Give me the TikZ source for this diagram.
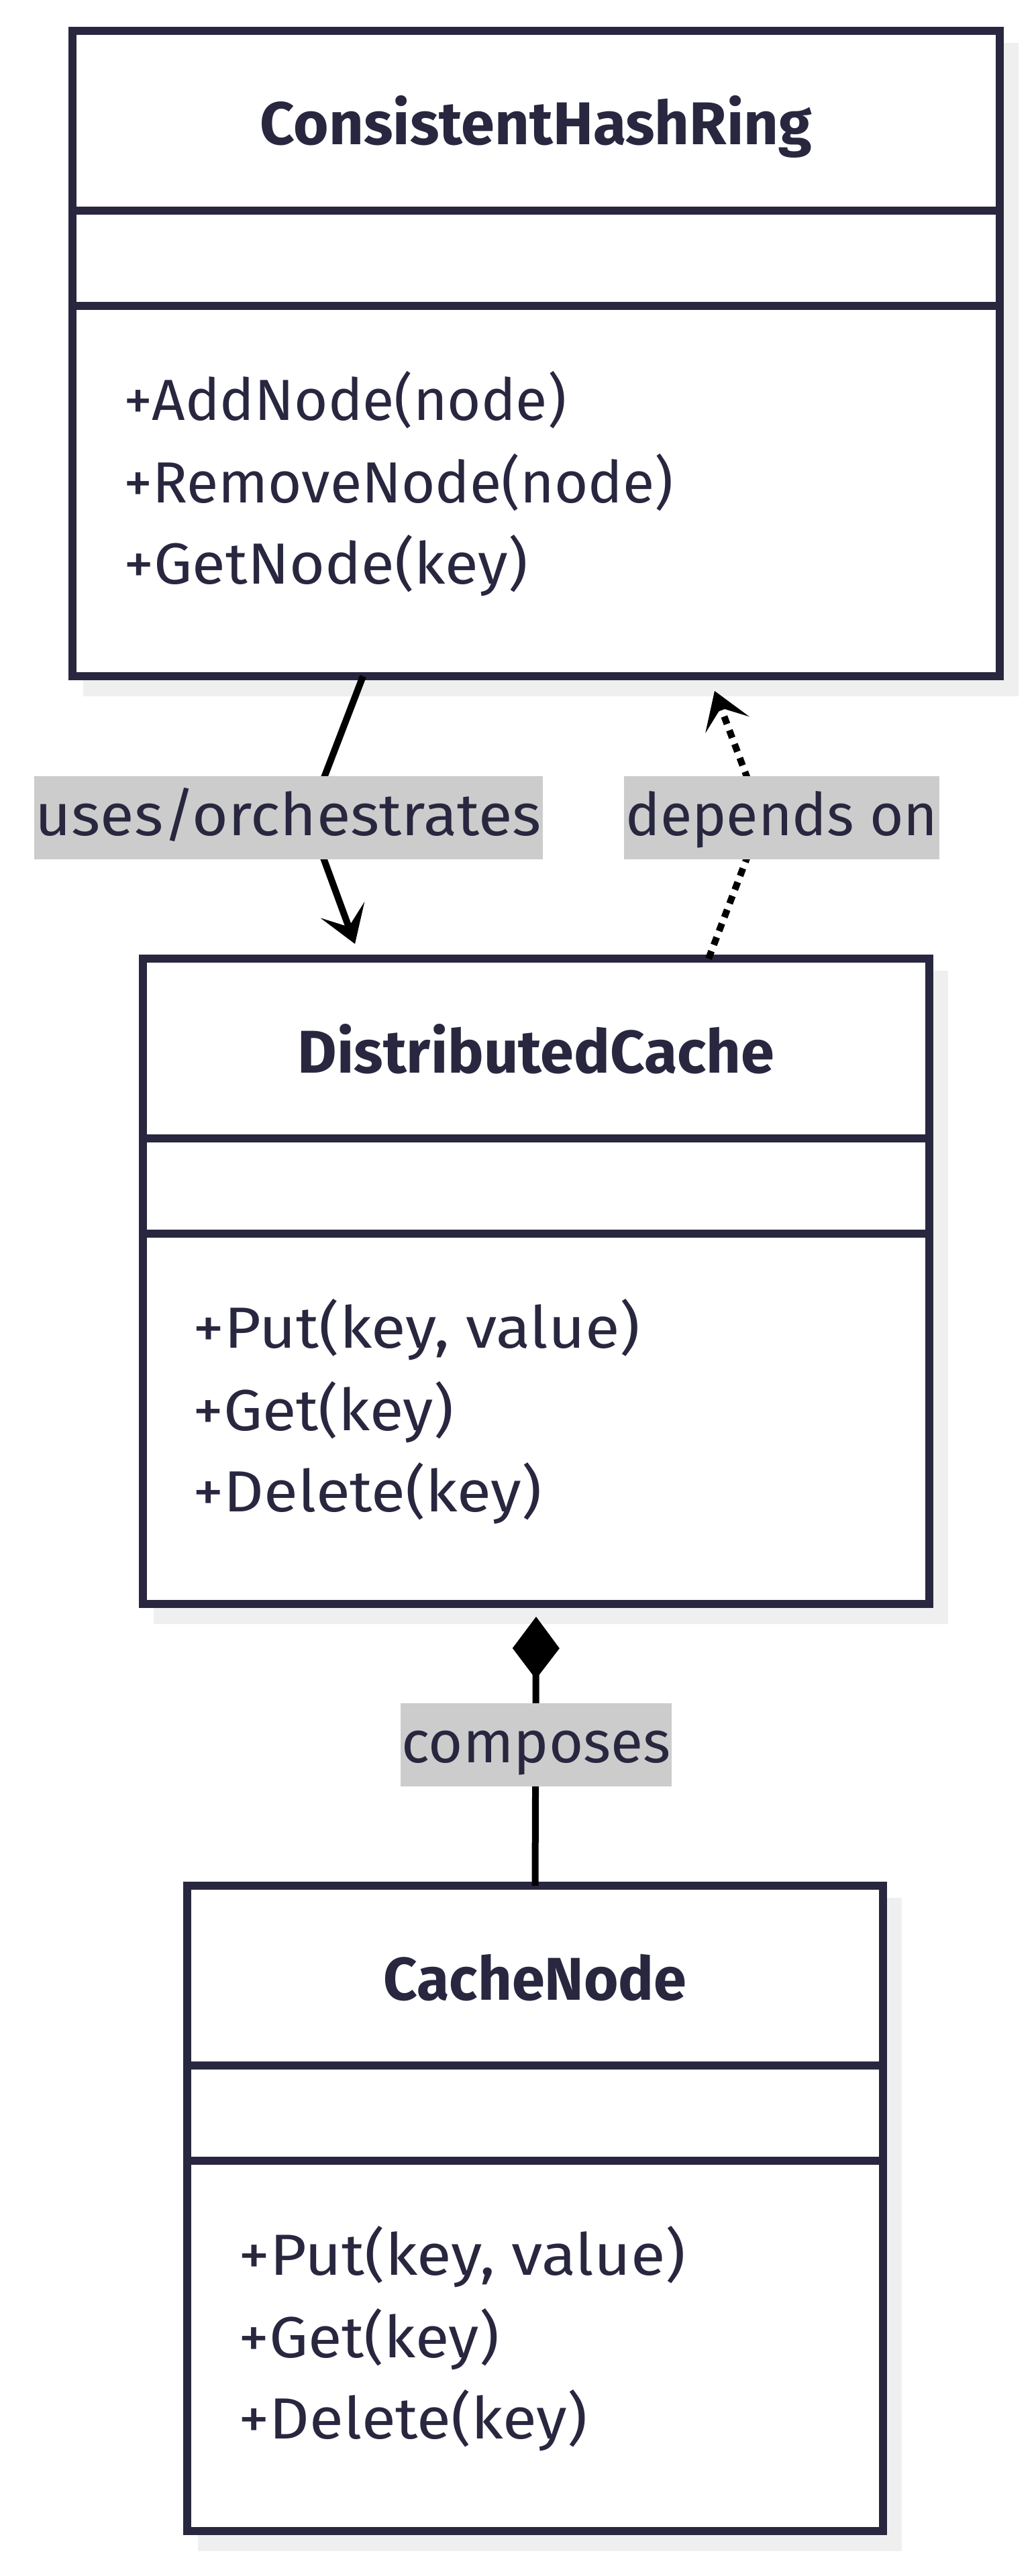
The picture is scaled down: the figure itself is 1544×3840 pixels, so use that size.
\documentclass[tikz,border=0pt]{standalone}
\usepackage{fontspec}
\usepackage{graphicx}
\setmainfont{Fira Sans}
\usetikzlibrary{arrows.meta,calc,backgrounds}
\definecolor{ink}{HTML}{28273F}
\definecolor{shadowc}{HTML}{EFEFEF}
\definecolor{lblbg}{HTML}{CCCCCC}
\newcommand{\hsc}[2]{\scalebox{#1}[1]{#2}}
\tikzset{
 classbox/.style={draw=ink, line width=12pt, fill=white, rectangle, inner sep=0pt, outer sep=0pt, anchor=north west, minimum height=962pt},
 titletext/.style={font=\fontsize{90}{108}\selectfont\bfseries, text=ink, anchor=base, inner sep=0pt},
 methtext/.style={font=\fontsize{86.5}{104}\selectfont, text=ink, anchor=base west, inner sep=0pt},
 divider/.style={draw=ink, line width=12pt},
 edgelabel/.style={fill=lblbg, text=ink, font=\fontsize{88}{106}\selectfont, inner xsep=2pt, inner ysep=0pt, minimum height=124pt, text height=70pt, text depth=18pt},
 conn/.style={draw=black, line width=10pt},
 depend/.style={-{Stealth[length=54pt,width=70pt,inset=27pt,line width=1pt]}},
 compose/.style={-{Kite[length=93pt,width=70pt,inset=46pt,line width=1pt]}},
 dotline/.style={dash pattern=on 12pt off 10pt},
}
\begin{document}
\begin{tikzpicture}[x=1pt,y=-1pt]
\useasboundingbox (0,0) rectangle (1544,3840);
% class boxes
\node[classbox, minimum width=1382pt] (cr) at (108,46) {};
\node[classbox, minimum width=1172pt] (dc) at (213,1429) {};
\node[classbox, minimum width=1037pt] (nd) at (279,2811) {};
\begin{pgfonlayer}{background}
\fill[shadowc] ($(cr.north west)+(16,18)$) rectangle ($(cr.south east)+(28,30)$);
\fill[shadowc] ($(dc.north west)+(16,18)$) rectangle ($(dc.south east)+(28,30)$);
\fill[shadowc] ($(nd.north west)+(16,18)$) rectangle ($(nd.south east)+(28,30)$);
\end{pgfonlayer}
% dividers
\foreach \b in {cr,dc,nd}{
  \draw[divider] ($(\b.north west)+(0,268)$) -- ($(\b.north east)+(0,268)$);
  \draw[divider] ($(\b.north west)+(0,410)$) -- ($(\b.north east)+(0,410)$);
}
% titles
\node[titletext] (crt) at ($(cr.north)+(0,170)$) {ConsistentHashRing};
\node[titletext] (dct) at ($(dc.north)+(0,170)$) {DistributedCache};
\node[titletext] (ndt) at ($(nd.north)+(0,170)$) {\hsc{0.98}{CacheNode}};
% methods
\node[methtext] (crm1) at ($(cr.north west)+(76,580)$) {+AddNode(node)};
\node[methtext] (crm2) at ($(cr.north west)+(76,703)$) {+RemoveNode(node)};
\node[methtext] (crm3) at ($(cr.north west)+(76,824)$) {\hsc{1.05}{+GetNode(key)}};
\node[methtext] (dcm1) at ($(dc.north west)+(74,580)$) {\hsc{1.09}{+Put(key, value)}};
\node[methtext] (dcm2) at ($(dc.north west)+(74,703)$) {\hsc{1.065}{+Get(key)}};
\node[methtext] (dcm3) at ($(dc.north west)+(74,824)$) {\hsc{1.075}{+Delete(key)}};
\node[methtext] (ndm1) at ($(nd.north west)+(76,580)$) {\hsc{1.09}{+Put(key, value)}};
\node[methtext] (ndm2) at ($(nd.north west)+(76,703)$) {\hsc{1.065}{+Get(key)}};
\node[methtext] (ndm3) at ($(nd.north west)+(76,824)$) {\hsc{1.075}{+Delete(key)}};
% connectors
\coordinate (k1) at (460,1219);
\coordinate (k2) at (1136,1219);
\draw[conn, depend] ([xshift=-258pt]cr.south) -- (k1) -- ([xshift=-270pt,yshift=22pt]dc.north);
\draw[conn, dotline, depend] ([xshift=257pt]dc.north) -- (k2) -- ([xshift=266pt,yshift=-22pt]cr.south);
\draw[conn, compose] (nd.north) -- ([yshift=-19pt]dc.south);
% edge labels
\node[edgelabel] (l1) at (430,1219) {\hsc{1.05}{uses/orchestrates}};
\node[edgelabel] (l2) at (1165,1219) {\hsc{0.985}{depends on}};
\node[edgelabel] (l3) at (799,2601) {composes};
\end{tikzpicture}
\end{document}
